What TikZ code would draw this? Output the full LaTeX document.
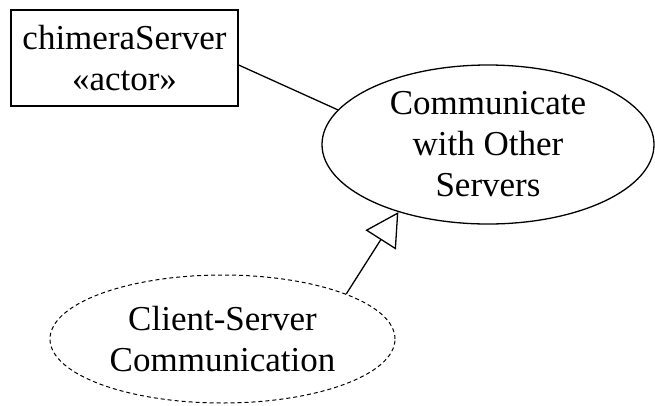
\documentclass[tikz,border=0pt]{standalone}
\usepackage{fontspec}
\setmainfont{Liberation Serif}
\usetikzlibrary{shapes.geometric,arrows.meta,calc}
\begin{document}
\begin{tikzpicture}[x=1pt,y=-1pt,
  umltext/.style={font=\rmfamily\fontsize{35}{41}\selectfont, align=center, inner sep=0pt},
  actorbox/.style={draw, line width=1.3pt, minimum width=227pt, minimum height=96pt, inner sep=0pt, umltext},
  usecase/.style={draw, ellipse, line width=1.3pt, inner sep=0pt},
  abstractcase/.style={usecase, line width=1pt, dash pattern=on 4pt off 3pt},
  assoc/.style={line width=1.3pt},
  generalize/.style={line width=1.3pt, -{Triangle[open, length=33pt, width=36pt, fill=white]}}
]
\useasboundingbox (0,0) rectangle (655,405);

% actor
\node[actorbox] (actor) at (124.5,58) {chimeraServer\\«actor»};

% use cases
\node[usecase, minimum width=332pt, minimum height=159pt,
      label={[umltext]center:Communicate\\with Other\\Servers}] (comm) at (488,144.5) {};
\node[abstractcase, minimum width=345pt, minimum height=128pt,
      label={[umltext]center:Client-Server\\Communication}] (client) at (222.5,339) {};

% association and generalization
\draw[assoc] ($(actor.east)+(0,7)$) -- (comm.167.5);
\draw[generalize] (client.20.6) -- (comm.217.5);
\end{tikzpicture}
\end{document}
